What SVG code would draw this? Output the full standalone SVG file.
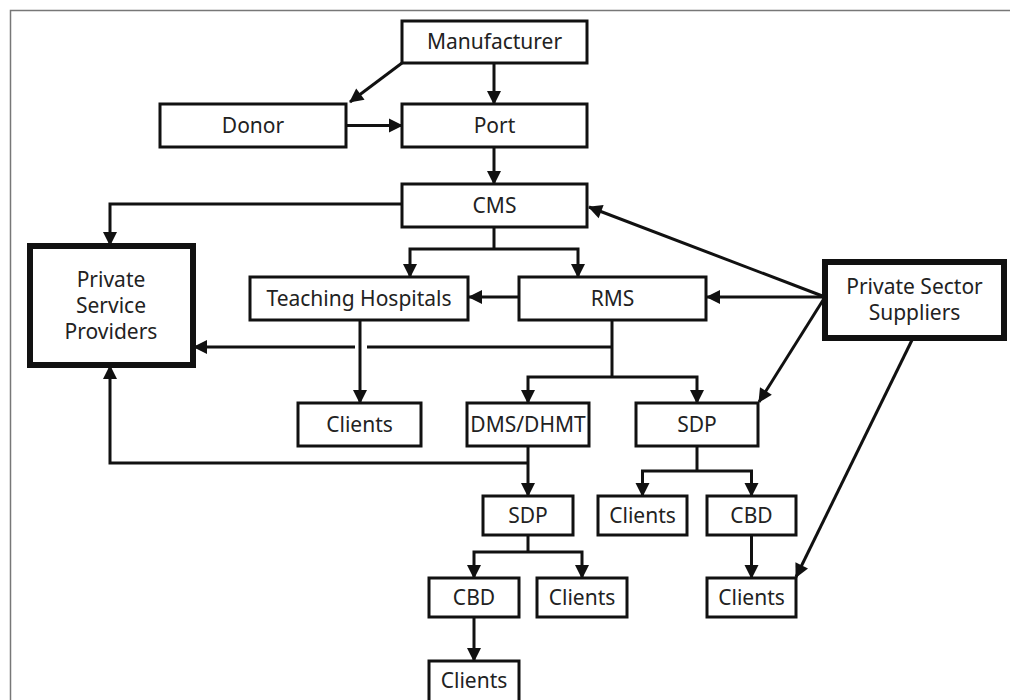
<svg xmlns="http://www.w3.org/2000/svg" width="1010" height="700" viewBox="0 0 1010 700">
  <defs>
    <marker id="arrow" markerUnits="userSpaceOnUse" markerWidth="16" markerHeight="16" refX="14" refY="8" orient="auto">
      <path d="M1,1 L15,8 L1,15 z" fill="#111"/>
    </marker>
    <style>
      .box { fill: #fff; stroke: #111; stroke-width: 3; }
      .box-heavy { fill: #fff; stroke: #111; stroke-width: 6; }
      .lbl { font-family: "Noto Sans", "Open Sans", sans-serif; font-size: 21px; fill: #222; text-anchor: middle; }
      .edge { fill: none; stroke: #111; stroke-width: 3; }
      .arr { marker-end: url(#arrow); }
      .frame { fill: none; stroke: #777; stroke-width: 1.5; }
    </style>
  </defs>

  <rect width="1010" height="700" fill="#fff"/>
  <path class="frame" d="M10.5,700 V10.5 H1010"/>

  <!-- connectors -->
  <g id="connectors">
    <path class="edge arr" d="M402,63 L350,102"/>
    <path class="edge arr" d="M494,63 V104"/>
    <path class="edge arr" d="M346,125.5 H402"/>
    <path class="edge arr" d="M494,147 V184"/>
    <path class="edge arr" d="M402,204 H110 V245"/>
    <path class="edge" d="M494,227 V249"/>
    <path class="edge arr" d="M494,249 H410 V277"/>
    <path class="edge arr" d="M494,249 H578 V277"/>
    <path class="edge arr" d="M519,297 H469"/>
    <path class="edge arr" d="M825,297 H707"/>
    <path class="edge arr" d="M825,297 L589,207"/>
    <path class="edge arr" d="M825,297 L759,402"/>
    <path class="edge arr" d="M913,338 L796,577"/>
    <path class="edge" d="M612,320 V377"/>
    <path class="edge" d="M612,347 H367"/>
    <path class="edge arr" d="M355,347 H194"/>
    <path class="edge arr" d="M612,377 H528 V403"/>
    <path class="edge arr" d="M612,377 H697 V403"/>
    <path class="edge arr" d="M360,320 V403"/>
    <path class="edge arr" d="M528,446 V496"/>
    <path class="edge arr" d="M528,463 H110 V366"/>
    <path class="edge" d="M697,446 V471"/>
    <path class="edge arr" d="M697,471 H642.5 V496"/>
    <path class="edge arr" d="M697,471 H751.5 V496"/>
    <path class="edge" d="M528,535 V552"/>
    <path class="edge arr" d="M528,552 H474 V578"/>
    <path class="edge arr" d="M528,552 H582 V578"/>
    <path class="edge arr" d="M474,617 V661"/>
    <path class="edge arr" d="M751.5,535 V578"/>
  </g>

  <!-- nodes -->
  <g id="manufacturer">
    <rect class="box" x="402" y="21" width="185" height="42"/>
    <text class="lbl" x="494.5" y="49">Manufacturer</text>
  </g>
  <g id="donor">
    <rect class="box" x="160" y="104" width="186" height="43"/>
    <text class="lbl" x="253" y="133">Donor</text>
  </g>
  <g id="port">
    <rect class="box" x="402" y="104" width="185" height="43"/>
    <text class="lbl" x="494.5" y="133">Port</text>
  </g>
  <g id="cms">
    <rect class="box" x="402" y="184" width="185" height="43"/>
    <text class="lbl" x="494.5" y="213">CMS</text>
  </g>
  <g id="private-service-providers">
    <rect class="box-heavy" x="30" y="246" width="163" height="119"/>
    <text class="lbl" x="111" y="287">Private</text>
    <text class="lbl" x="111" y="313">Service</text>
    <text class="lbl" x="111" y="339">Providers</text>
  </g>
  <g id="teaching-hospitals">
    <rect class="box" x="250" y="277" width="218" height="43"/>
    <text class="lbl" x="359" y="306">Teaching Hospitals</text>
  </g>
  <g id="rms">
    <rect class="box" x="519" y="277" width="187" height="43"/>
    <text class="lbl" x="612.5" y="306">RMS</text>
  </g>
  <g id="private-sector-suppliers">
    <rect class="box-heavy" x="825" y="262" width="179" height="76"/>
    <text class="lbl" x="914.5" y="294">Private Sector</text>
    <text class="lbl" x="914.5" y="320">Suppliers</text>
  </g>
  <g id="clients-th">
    <rect class="box" x="298" y="403" width="123" height="43"/>
    <text class="lbl" x="359.5" y="432">Clients</text>
  </g>
  <g id="dms-dhmt">
    <rect class="box" x="467" y="403" width="122" height="43"/>
    <text class="lbl" x="528" y="432">DMS/DHMT</text>
  </g>
  <g id="sdp-rms">
    <rect class="box" x="636" y="403" width="122" height="43"/>
    <text class="lbl" x="697" y="432">SDP</text>
  </g>
  <g id="sdp-dms">
    <rect class="box" x="483" y="496" width="90" height="39"/>
    <text class="lbl" x="528" y="523">SDP</text>
  </g>
  <g id="clients-sdp">
    <rect class="box" x="598" y="496" width="89" height="39"/>
    <text class="lbl" x="642.5" y="523">Clients</text>
  </g>
  <g id="cbd-sdp">
    <rect class="box" x="707" y="496" width="89" height="39"/>
    <text class="lbl" x="751.5" y="523">CBD</text>
  </g>
  <g id="cbd-dms">
    <rect class="box" x="429" y="578" width="90" height="39"/>
    <text class="lbl" x="474" y="605">CBD</text>
  </g>
  <g id="clients-dms">
    <rect class="box" x="537" y="578" width="90" height="39"/>
    <text class="lbl" x="582" y="605">Clients</text>
  </g>
  <g id="clients-cbd-sdp">
    <rect class="box" x="707" y="578" width="89" height="39"/>
    <text class="lbl" x="751.5" y="605">Clients</text>
  </g>
  <g id="clients-cbd-dms">
    <rect class="box" x="429" y="661" width="90" height="45"/>
    <text class="lbl" x="474" y="688">Clients</text>
  </g>
</svg>
